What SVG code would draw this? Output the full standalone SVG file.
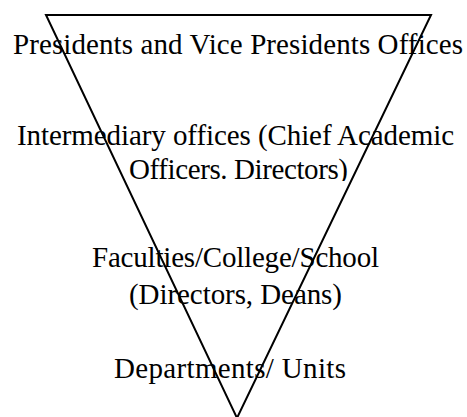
<svg xmlns="http://www.w3.org/2000/svg" width="467" height="417" viewBox="0 0 467 417">
  <style>
    .lbl { font-family: "Liberation Serif", "DejaVu Serif", serif; font-size: 29px; fill: #000; }
    .edge { fill: none; stroke: #000; stroke-width: 2; }
  </style>
  <defs>
    <clipPath id="cut3"><rect x="0" y="150" width="467" height="31"/></clipPath>
  </defs>
  <rect width="467" height="417" fill="#fff"/>
  <g id="connectors">
    <path class="edge" d="M46 15 L431 15 L237 418 Z"/>
  </g>
  <g id="level1">
    <text class="lbl" x="13" y="54" textLength="450" lengthAdjust="spacing">Presidents and Vice Presidents Offices</text>
  </g>
  <g id="level2">
    <text class="lbl" x="17" y="145" textLength="437" lengthAdjust="spacing">Intermediary offices (Chief Academic</text>
    <text class="lbl" x="129" y="179" textLength="219" lengthAdjust="spacing" clip-path="url(#cut3)">Officers. Directors)</text>
  </g>
  <g id="level3">
    <text class="lbl" x="92" y="267" textLength="287" lengthAdjust="spacing">Faculties/College/School</text>
    <text class="lbl" x="129" y="304" textLength="213" lengthAdjust="spacing">(Directors, Deans)</text>
  </g>
  <g id="level4">
    <text class="lbl" x="114" y="378" textLength="232" lengthAdjust="spacing">Departments/ Units</text>
  </g>
</svg>
